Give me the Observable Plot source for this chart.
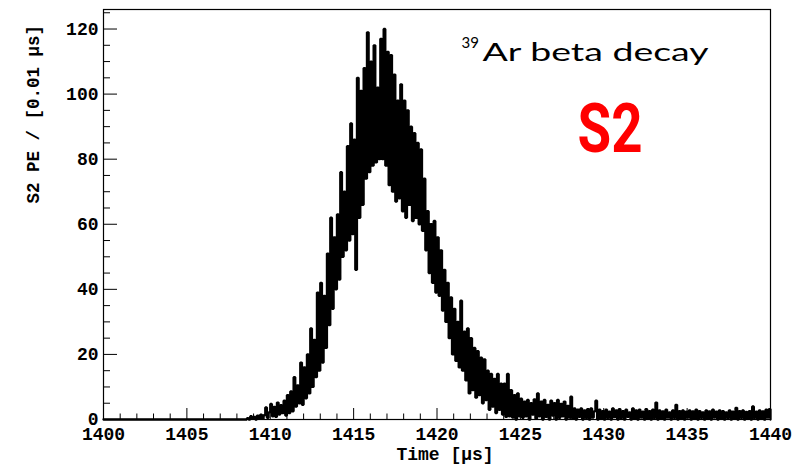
<!DOCTYPE html>
<html>
<head>
<meta charset="utf-8">
<script src="https://cdn.jsdelivr.net/npm/d3@7"></script>
<script src="https://cdn.jsdelivr.net/npm/@observablehq/plot@0.6"></script>
<style>
  html, body { margin: 0; padding: 0; background: #fff; }
</style>
</head>
<body>
<div id="chart"></div>
<script>
// S2 photoelectron waveform, binned at 0.1 us, counts per 0.01 us
const binStart = 1408.0;
const binWidth = 0.1;
const counts = [
  0,0,0,0,0,0,0.4,0,1.0,0.3,
  0.8,0,1.2,0.3,1.5,0.2,1.3,3.7,0.5,2.2,
  4.8,1.0,3.9,0.8,5.2,1.5,4.4,2.0,5.8,1.2,
  7.5,2.0,8.6,2.5,13.0,4.0,10.5,5.0,17.5,4.5,
  16.0,6.5,20.0,8.0,28.0,10.0,24.5,13.0,39.0,15.0,
  42.0,17.5,38.0,22.0,51.0,29.0,62.0,34.0,56.0,40.0,
  63.0,43.0,76.0,50.0,70.0,52.0,84.0,55.0,91.0,57.0,
  86.0,46.0,105.0,62.0,101.0,66.0,108.0,74.0,119.0,76.0,
  110.0,78.0,115.0,79.0,102.0,80.0,117.0,80.0,120.0,78.0,
  113.0,72.0,112.0,70.0,106.0,67.0,98.0,68.0,103.0,64.0,
  98.0,62.0,95.0,66.0,90.0,61.0,88.0,62.0,85.0,60.0,
  83.0,58.0,74.0,52.0,64.0,45.0,60.0,42.0,61.0,39.0,
  56.0,38.0,52.0,33.5,46.0,30.0,42.0,25.0,37.5,20.0,
  34.0,18.0,30.0,16.0,36.5,15.0,27.0,12.0,28.0,8.0,
  25.0,9.0,22.0,6.7,21.0,7.5,19.0,5.0,18.5,6.0,
  15.0,3.0,14.0,4.0,12.5,2.0,14.0,3.0,11.0,1.5,
  11.0,0.8,14.0,1.0,9.0,0.6,7.5,0.0,8.0,1.0,
  6.4,0.5,5.5,1.0,6.0,0.0,5.0,1.5,6.2,0.3,
  8.0,1.0,5.5,0.0,6.0,0.8,4.5,0.0,5.8,1.2,
  5.0,0.0,6.0,0.5,4.8,1.0,5.5,0.0,4.2,0.6,
  7.0,0.3,3.4,0.0,3.0,0.8,3.4,0.0,2.8,0.5,
  3.2,0.0,3.4,0.6,2.5,5.8,0.0,3.0,0.4,2.6,
  0.0,3.0,0.5,2.4,0.0,3.4,0.7,2.8,0.0,3.2,
  0.5,2.6,0.0,3.0,0.8,2.2,0.0,3.4,0.3,2.8,
  0.0,3.0,0.6,2.4,0.0,3.2,0.4,2.6,0.0,3.0,
  0.5,5.2,0.0,2.8,0.4,2.5,0.0,3.0,0.6,2.2,
  0.0,2.8,0.5,4.5,0.0,2.6,0.3,2.8,0.0,2.4,
  0.6,2.8,0.0,2.5,0.4,3.0,0.0,2.6,0.5,2.2,
  0.0,2.8,0.3,2.5,0.0,3.0,0.6,2.4,0.0,2.8,
  0.4,2.6,0.0,2.2,0.5,2.8,0.0,2.4,0.3,3.6,
  0.0,2.6,0.5,2.8,0.0,2.3,0.4,2.6,0.0,4.0,
  0.5,2.4,0.0,2.8,0.3,2.5,0.0,3.0,0.6,3.2,
  0
];

// Axis ranges and tick values
const xDomain = [1400, 1440];
const yDomain = [0, 126];
const xMajorTicks = [1400, 1405, 1410, 1415, 1420, 1425, 1430, 1435, 1440];
const yMajorTicks = [0, 20, 40, 60, 80, 100, 120];
const xMinorTicks = d3.range(1400, 1441, 1).filter(v => v % 5 !== 0);
const yMinorTicks = d3.range(0, 126, 5).filter(v => v % 20 !== 0);

// Texts
const xTitle = "Time [µs]";
const yTitle = "S2 PE / [0.01 µs]";
const isotope = "39";
const processLabel = "Ar beta decay";
const signalLabel = "S2";

const W = 805, H = 465;
const margin = {left: 103, right: 35, top: 9, bottom: 46};
const pxPerX = (W - margin.left - margin.right) / (xDomain[1] - xDomain[0]);
const pxPerY = (H - margin.top - margin.bottom) / (yDomain[1] - yDomain[0]);

const series = [{t: xDomain[0], c: 0}]
  .concat(counts.map((c, i) => ({t: +(binStart + i * binWidth).toFixed(2), c})));

const tickStroke = {stroke: "#000", strokeWidth: 1};

const plot = Plot.plot({
  width: W,
  height: H,
  marginLeft: margin.left,
  marginRight: margin.right,
  marginTop: margin.top,
  marginBottom: margin.bottom,
  x: {domain: xDomain},
  y: {domain: yDomain},
  style: {
    fontFamily: "'Liberation Mono', 'DejaVu Sans Mono', monospace",
    fontWeight: "bold",
    fontSize: "18px",
    background: "#fff",
    color: "#000"
  },
  marks: [
    Plot.frame({stroke: "#000", strokeWidth: 1.2}),
    // inward ticks on the left axis
    Plot.ruleY(yMajorTicks, {y: d => d, x1: xDomain[0], x2: xDomain[0] + 14 / pxPerX, ...tickStroke}),
    Plot.ruleY(yMinorTicks, {y: d => d, x1: xDomain[0], x2: xDomain[0] + 7 / pxPerX, ...tickStroke}),
    // inward ticks on the bottom axis
    Plot.ruleX(xMajorTicks, {x: d => d, y1: yDomain[0], y2: yDomain[0] + 11 / pxPerY, ...tickStroke}),
    Plot.ruleX(xMinorTicks, {x: d => d, y1: yDomain[0], y2: yDomain[0] + 5.5 / pxPerY, ...tickStroke}),
    Plot.axisX(xMajorTicks, {tickSize: 0, tickPadding: 8, tickFormat: d => String(d), label: null}),
    Plot.axisY(yMajorTicks, {tickSize: 0, tickPadding: 5, tickFormat: d => String(d), label: null}),
    // histogram outline
    Plot.line(series, {x: "t", y: "c", curve: "step-after", stroke: "#000", strokeWidth: 2.3, strokeLinejoin: "miter"}),
    // axis titles
    Plot.text([xTitle], {frameAnchor: "bottom", dx: 8, dy: 28, lineAnchor: "top", fontSize: 18}),
    Plot.text([yTitle], {frameAnchor: "left", rotate: -90, dx: -70, dy: -11, fontSize: 17.5}),
    // annotations
    Plot.text([isotope], {frameAnchor: "top-left", dx: 358, dy: 28, textAnchor: "start", lineAnchor: "top",
      fontFamily: "Lato, 'Open Sans', sans-serif", fontWeight: "normal", fontSize: 15, fill: "#000"}),
    Plot.text([processLabel], {frameAnchor: "top-left", dx: 379, dy: 34, textAnchor: "start", lineAnchor: "top",
      fontFamily: "Lato, 'Open Sans', sans-serif", fontWeight: "normal", fontSize: 25, fill: "#000"}),
    Plot.text([signalLabel], {frameAnchor: "top-left", dx: 474, dy: 94, textAnchor: "start", lineAnchor: "top",
      fontFamily: "'Liberation Sans Narrow', 'Roboto', sans-serif", fontWeight: "bold", fontSize: 68, fill: "#ff0000"})
  ]
});

// stretch the annotation labels to their set widths
const svg = d3.select(plot);
svg.selectAll("text").filter(function() { return this.textContent === processLabel; })
  .attr("textLength", 226).attr("lengthAdjust", "spacingAndGlyphs");
svg.selectAll("text").filter(function() { return this.textContent === signalLabel; })
  .attr("textLength", 65).attr("lengthAdjust", "spacingAndGlyphs");

document.getElementById("chart").appendChild(plot);
</script>
</body>
</html>
